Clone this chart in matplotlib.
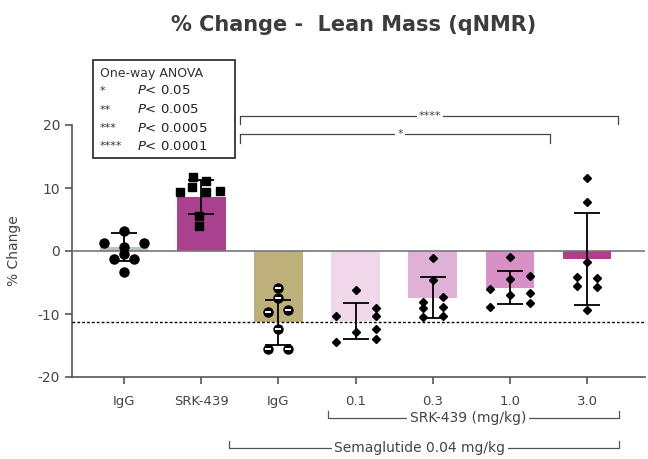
import numpy as np
import matplotlib
matplotlib.use("Agg")
import matplotlib.pyplot as plt
from matplotlib.patches import Rectangle

# groups on the x axis
labels = ["IgG", "SRK-439", "IgG", "0.1", "0.3", "1.0", "3.0"]
means = [0.6, 8.6, -11.3, -11.1, -7.4, -5.8, -1.3]
sds = [2.2, 2.7, 3.6, 2.8, 3.3, 2.6, 7.3]
colors = ["#b7c6b6", "#a9418f", "#bdb07a", "#f1d7ea", "#dfb1d6", "#d891c6", "#b13d8c"]

# individual animals (% change)
pts = [
    [3.2, 1.3, 1.3, 0.6, -0.5, -1.3, -1.3, -3.3],
    [11.7, 11.1, 9.4, 10.2, 9.4, 9.5, 5.6, 4.0],
    [-5.9, -7.5, -9.7, -9.4, -12.4, -15.6, -15.6],
    [-10.3, -6.2, -12.9, -14.4, -9.0, -10.3, -12.4, -14.0],
    [-1.1, -4.6, -8.1, -9.0, -10.4, -7.3, -8.9, -10.3],
    [-1.0, -4.5, -7.0, -4.0, -6.6, -8.3, -6.0, -8.9],
    [11.6, 7.8, -1.7, -4.1, -5.5, -4.3, -5.7, -9.4],
]
# horizontal spread of the dots (in steps)
spread = [
    [0, -2, 2, 0, 0, -1, 1, 0],
    [-0.8, 0.5, -2.1, -0.9, 0.5, 1.9, -0.2, -0.2],
    [0, 0, -1, 1, 0, -1, 1],
    [-2, 0, 0, -2, 2, 2, 2, 2],
    [0, 0, -1, -1, -1, 1, 1, 1],
    [0, 0, 0, 2, 2, 2, -2, -2],
    [0, 0, 0, -1, -1, 1, 1, 0],
]
markers = ["o", "s", "o", "D", "D", "D", "D"]
msizes = [6.5, 5.5, 6.5, 4, 4, 4, 4]

W, H = 648, 459
fig = plt.figure(figsize=(W / 100, H / 100), dpi=100)
ax = fig.add_axes([72 / W, 1 - 377 / H, (645 - 72) / W, (377 - 125) / H])

grey = "#555555"
x = np.arange(len(labels))
ax.bar(x, means, width=0.63, color=colors, zorder=2)
ax.axhline(0, color="#777777", lw=1.2, zorder=3)
ax.axhline(means[2], color="black", lw=1.0, ls=(0, (2, 1.5)), zorder=3)
ax.errorbar(x, means, yerr=sds, fmt="none", ecolor="black", elinewidth=1.3,
            capsize=9.5, capthick=1.3, zorder=4)

step = 10 / 77.2
for i, (ys, dx) in enumerate(zip(pts, spread)):
    xs = i + np.array(dx) * step
    ax.plot(xs, ys, ls="none", marker=markers[i], ms=msizes[i], color="black", zorder=5)
    if i == 2:
        ax.plot(xs, ys, ls="none", marker="_", ms=4.5, mew=1.4, color="white", zorder=6)

ax.set_xlim(-0.675, 6.75)
ax.set_ylim(-20, 20)
ax.set_yticks([-20, -10, 0, 10, 20])
ax.set_yticklabels(["-20", "-10", "0", "10", "20"])
ax.set_xticks(x)
ax.set_xticklabels(labels)
ax.tick_params(axis="both", colors=grey, labelsize=10, length=5, width=1.2, labelcolor="#444444")
ax.tick_params(axis="x", labelsize=9.5, pad=8)
for s in ["top", "right"]:
    ax.spines[s].set_visible(False)
for s in ["left", "bottom"]:
    ax.spines[s].set_color(grey)
    ax.spines[s].set_linewidth(1.2)
ax.set_ylabel("% Change", fontsize=10, color="#444444", labelpad=12)

fig.text(354 / W, 1 - 25 / H, "% Change -  Lean Mass (qNMR)", ha="center", va="center",
         fontsize=15, fontweight="bold", color="#3c3c3c")

# significance brackets above the bars
def px2x(p):
    return (p - 124) / 77.2

def bracket(x0, x1, y, drop, txt, tx):
    ax.plot([px2x(x0), px2x(x0), px2x(x1), px2x(x1)], [y - drop, y, y, y - drop],
            color="#444444", lw=0.9, clip_on=False)
    ax.text(px2x(tx), y, txt, ha="center", va="center", fontsize=8, color="#444444",
            bbox=dict(facecolor="white", edgecolor="none", pad=1.5), clip_on=False)

bracket(240, 618, 21.5, 1.3, "****", 430)
bracket(240, 550, 18.6, 1.5, "*", 400)

# group brackets under the axis
def under(x0, x1, ypx, txt, tx):
    yf = 1 - ypx / H
    yt = 1 - (ypx - 7) / H
    fig.lines.append(plt.Line2D([x0 / W, x0 / W, x1 / W, x1 / W], [yt, yf, yf, yt],
                                transform=fig.transFigure, color="#555555", lw=0.9))
    fig.text(tx / W, yf, txt, ha="center", va="center", fontsize=10, color="#444444",
             bbox=dict(facecolor="white", edgecolor="none", pad=2))

under(328, 619, 418, "SRK-439 (mg/kg)", 468)
under(229, 619, 448, "Semaglutide 0.04 mg/kg", 420)

# ANOVA key
fig.patches.append(Rectangle((93 / W, 1 - 158 / H), (235 - 93) / W, (158 - 60) / H,
                             transform=fig.transFigure, facecolor="white",
                             edgecolor="#222222", lw=1.2, zorder=10))
fig.text(100 / W, 1 - 73 / H, "One-way ANOVA", fontsize=9, color="#333333",
         va="center", zorder=11)
stars = ["*", "**", "***", "****"]
pvals = ["0.05", "0.005", "0.0005", "0.0001"]
for k, (st, pv) in enumerate(zip(stars, pvals)):
    yy = 1 - (91 + k * 18.5) / H
    fig.text(100 / W, yy, st, fontsize=8, color="#333333", va="center", zorder=11)
    fig.text(137 / W, yy, r"$\it{P}$< " + pv, fontsize=9.5, color="#222222",
             va="center", zorder=11)

fig.savefig("out.png", dpi=100)
